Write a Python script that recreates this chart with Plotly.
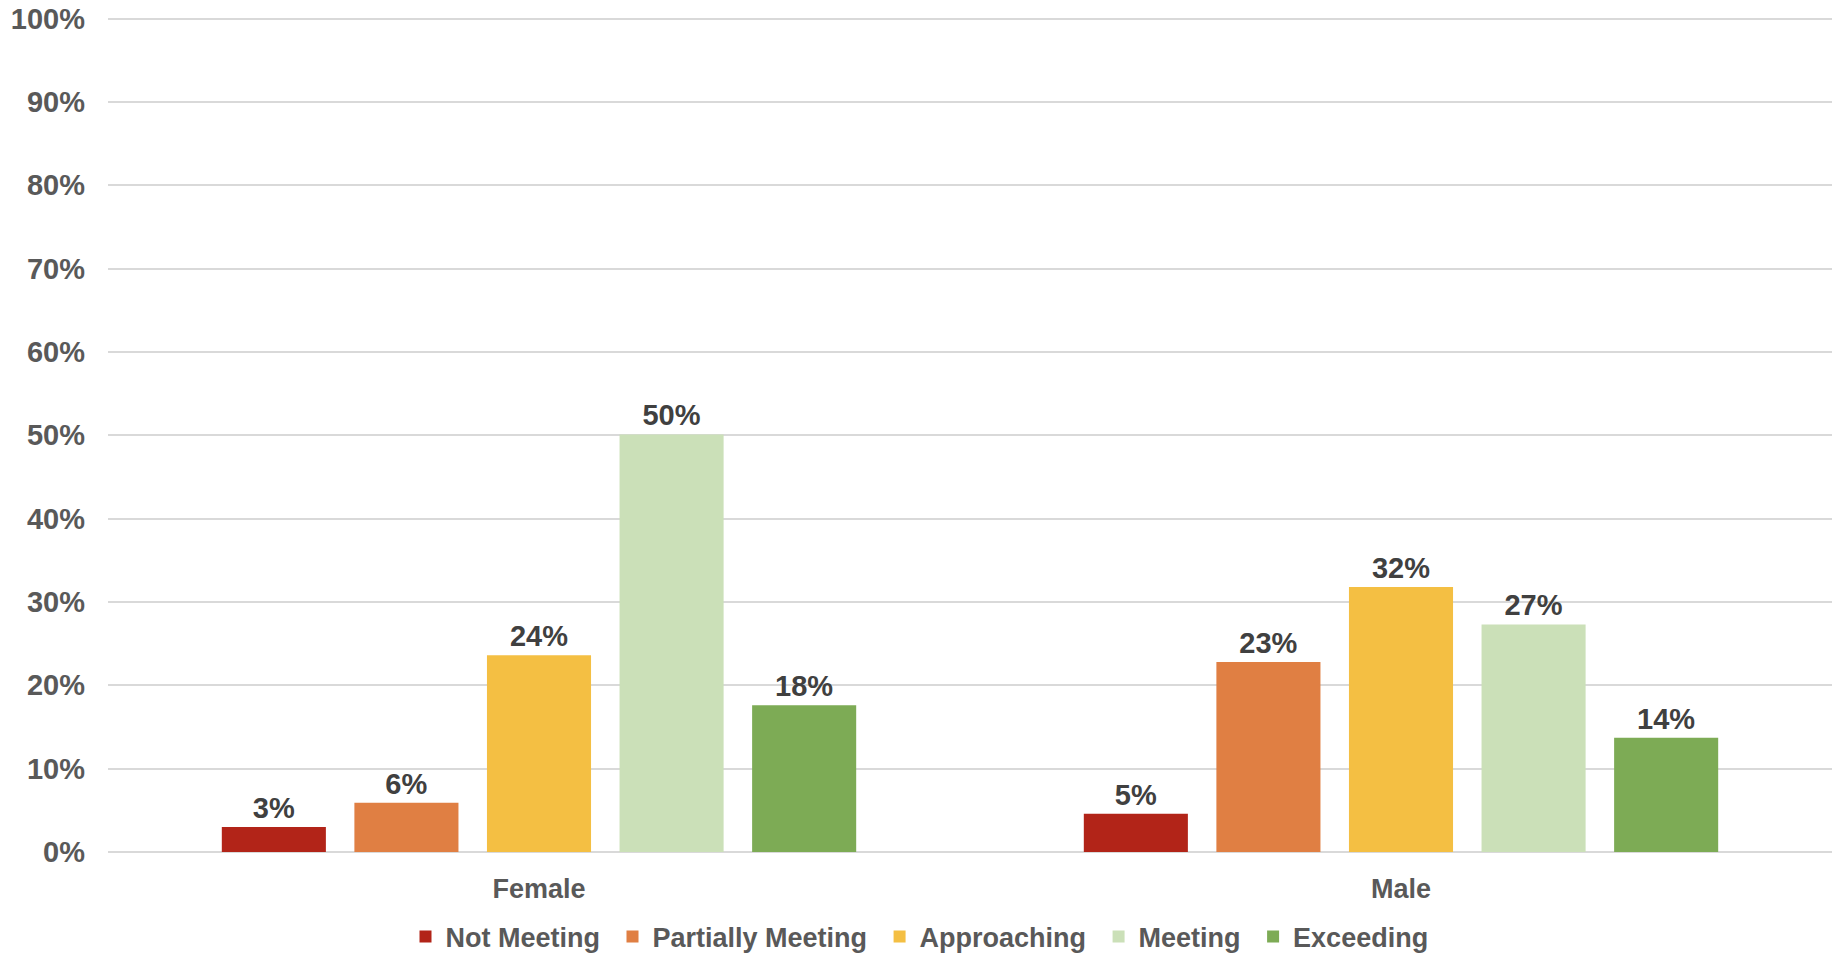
import plotly.graph_objects as go

categories = ["Female", "Male"]
series_names = ["Not Meeting", "Partially Meeting", "Approaching", "Meeting", "Exceeding"]
not_meeting = [0.030, 0.046]
partially_meeting = [0.059, 0.228]
approaching = [0.236, 0.318]
meeting = [0.501, 0.273]
exceeding = [0.176, 0.137]
series_values = [not_meeting, partially_meeting, approaching, meeting, exceeding]
colors = ["#B22418", "#E07F43", "#F4BF43", "#CBE0B8", "#7DAB55"]
y_ticks = [i / 10 for i in range(11)]

FONT = "Liberation Sans"
W, H = 1839, 953
ML, MR, MT, MB = 108, 7, 16, 101

fig = go.Figure()
for k, (name, vals, col) in enumerate(zip(series_names, series_values, colors)):
    label = name if k == len(series_names) - 1 else name + "\u00a0"
    fig.add_trace(go.Bar(
        name=label, x=categories, y=vals,
        marker=dict(color=col, line=dict(width=0)),
        texttemplate="%{y:.0%}", textposition="outside",
        textfont=dict(family=FONT, size=29, color="#404040", weight="bold"),
        cliponaxis=False,
    ))

fig.update_layout(
    width=W, height=H,
    margin=dict(l=ML, r=MR, t=MT, b=MB, pad=0, autoexpand=False),
    paper_bgcolor="white", plot_bgcolor="white",
    barmode="group", bargap=0.231, bargroupgap=0.215,
    font=dict(family=FONT, size=27, color="#595959", weight="bold"),
    showlegend=True,
    legend=dict(orientation="h", xref="container", x=0.5, xanchor="center",
                yref="paper", y=-0.1017, yanchor="middle",
                font=dict(family=FONT, size=27, color="#595959", weight="bold"),
                itemwidth=30, traceorder="normal"),
    xaxis=dict(showgrid=False, showline=False, zeroline=False, ticks="", automargin=False,
               tickfont=dict(family=FONT, size=27, color="#595959", weight="bold"),
               ticklabelstandoff=18),
    yaxis=dict(range=[0, 1.003], tickvals=y_ticks, tickformat=".0%", showgrid=True,
               gridcolor="#D9D9D9", gridwidth=1.5, zeroline=True, zerolinecolor="#D9D9D9",
               zerolinewidth=1.5, showline=False, ticks="", automargin=False,
               tickfont=dict(family=FONT, size=29, color="#595959", weight="bold"),
               ticklabelstandoff=22),
)

fig.write_html("out.html",
               config={"displayModeBar": False},
               post_script="document.body.style.margin='0';document.body.style.overflow='hidden';")
